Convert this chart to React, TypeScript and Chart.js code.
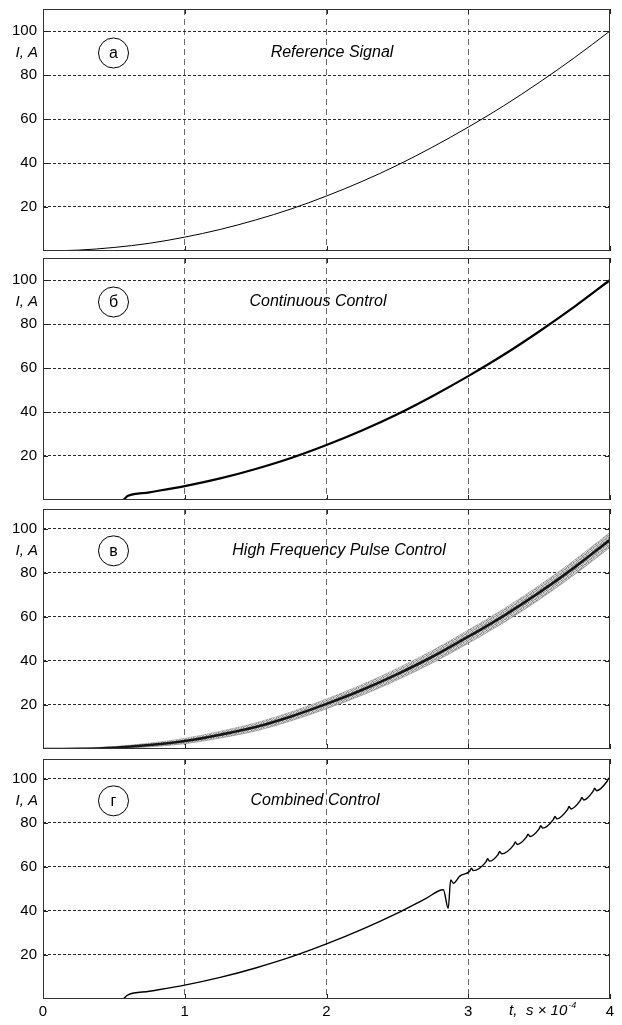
import React, { useEffect, useRef } from "react";
import { Chart, registerables } from "chart.js";
Chart.register(...registerables);

// ---------- data ----------
const xTickValues = [0, 1, 2, 3, 4];
const yTickValues = [20, 40, 60, 80, 100];

const refT = [0, 0.25, 0.5, 0.75, 1, 1.25, 1.5, 1.75, 2, 2.25, 2.5, 2.75, 3, 3.25, 3.5, 3.75, 4];
const refI = [0, 0.4, 1.6, 3.5, 6.3, 9.8, 14.1, 19.1, 25, 31.6, 39, 47.3, 56.3, 66, 76.6, 87.9, 100];

const contT = [0, 0.56, 0.6, 0.75, 1, 1.25, 1.5, 1.75, 2, 2.25, 2.5, 2.75, 3, 3.25, 3.5, 3.75, 4];
const contI = [0, 0, 1.9, 3.5, 6.3, 9.8, 14.1, 19.1, 25, 31.6, 39, 47.3, 56.3, 66, 76.6, 87.9, 100];

const hfT = [0, 0.25, 0.5, 0.75, 1, 1.25, 1.5, 1.75, 2, 2.25, 2.5, 2.75, 3, 3.25, 3.5, 3.75, 4];
const hfI = [0, 0.1, 0.6, 1.8, 3.6, 6.5, 10, 14.8, 20.5, 26.8, 34, 42, 51, 60.5, 71, 82.5, 95];
const hfUpper = [0, 0.3, 1.1, 2.6, 4.8, 8.0, 11.8, 16.8, 22.7, 29.2, 36.6, 44.8, 54.0, 63.6, 74.2, 85.8, 98.4];
const hfLower = [0, 0, 0.1, 1.0, 2.4, 5.0, 8.2, 12.8, 18.3, 24.4, 31.4, 39.2, 48.0, 57.4, 67.8, 79.2, 91.6];

const combT = [
  0, 0.56, 0.6, 0.75, 1, 1.25, 1.5, 1.75, 2, 2.25, 2.5, 2.7,
  2.824, 2.859, 2.876, 2.895, 2.942,
  3.01, 3.022, 3.035,
  3.125, 3.137, 3.15,
  3.21, 3.222, 3.235,
  3.32, 3.332, 3.345,
  3.41, 3.422, 3.435,
  3.5, 3.512, 3.525,
  3.6, 3.612, 3.625,
  3.7, 3.712, 3.725,
  3.79, 3.802, 3.815,
  3.88, 3.892, 3.905,
  3.98, 3.992, 4.0,
];
const combI = [
  0, 0, 1.9, 3.5, 6.3, 9.8, 14.1, 19.1, 25, 31.6, 39, 45.6,
  49.6, 41.2, 54.1, 52.6, 55.9,
  58.0, 59.4, 58.3,
  62.3, 63.7, 62.6,
  65.6, 67.0, 65.9,
  69.9, 71.3, 70.2,
  73.5, 74.9, 73.8,
  77.3, 78.7, 77.6,
  81.5, 82.9, 81.8,
  86.0, 87.4, 86.3,
  90.1, 91.5, 90.4,
  94.3, 95.7, 94.6,
  98.9, 100.3, 100,
];

const panelLetters = ["а", "б", "в", "г"];
const panelTitles = ["Reference Signal", "Continuous Control", "High Frequency Pulse Control", "Combined Control"];
const yAxisLabel = "I, A";

// ---------- helpers ----------
const FONT = '"Liberation Sans", Arial, sans-serif';
const pts = (t: number[], v: number[]) => t.map((x, i) => ({ x, y: v[i] }));

type PanelCfg = {
  top: number;
  height: number;
  padTop: number;
  padBottom: number;
  yMax: number;
  titleX: number;
  idx: number;
  showX: boolean;
};

const panels: PanelCfg[] = [
  { top: 0, height: 254, padTop: 9, padBottom: 3, yMax: 110, titleX: 332, idx: 0, showX: false },
  { top: 254, height: 250, padTop: 4, padBottom: 4, yMax: 110, titleX: 318, idx: 1, showX: false },
  { top: 504, height: 250, padTop: 5, padBottom: 5, yMax: 109, titleX: 339, idx: 2, showX: false },
  { top: 754, height: 271, padTop: 5, padBottom: 0, yMax: 109, titleX: 315, idx: 3, showX: true },
];

const noiseShades = [
  "#8a8a8a", "#cfcfcf", "#a5a5a5", "#e0e0e0", "#959595",
  "#d5d5d5", "#7c7c7c", "#c0c0c0", "#9c9c9c", "#dadada",
  "#a9a9a9", "#e3e3e3", "#858585", "#cbcbcb", "#b2b2b2",
  "#dcdcdc", "#9a9a9a", "#d2d2d2", "#7f7f7f", "#c6c6c6",
  "#b5b5b5", "#8e8e8e", "#dedede", "#a2a2a2", "#d0d0d0",
];

function makePattern(): CanvasPattern | string {
  const c = document.createElement("canvas");
  c.width = 5;
  c.height = 5;
  const g = c.getContext("2d");
  if (!g) return "#aaa";
  noiseShades.forEach((col, i) => {
    g.fillStyle = col;
    g.fillRect(i % 5, Math.floor(i / 5), 1, 1);
  });
  const p = g.createPattern(c, "repeat");
  return p || "#aaa";
}

function buildDatasets(idx: number): any[] {
  const base = { pointRadius: 0, cubicInterpolationMode: "monotone", fill: false };
  if (idx === 0) {
    return [{ ...base, data: pts(refT, refI), borderColor: "#000", borderWidth: 1 }];
  }
  if (idx === 1) {
    return [{ ...base, data: pts(contT, contI), borderColor: "#000", borderWidth: 2.2 }];
  }
  if (idx === 2) {
    const pat = makePattern();
    return [
      { ...base, data: pts(hfT, hfI), borderColor: "#161616", borderWidth: 2.6, order: 0 },
      { ...base, data: pts(hfT, hfUpper), borderColor: "rgba(140,140,140,0.7)", borderWidth: 1, order: 2 },
      { ...base, data: pts(hfT, hfLower), borderColor: "rgba(140,140,140,0.7)", borderWidth: 1, fill: "-1", backgroundColor: pat, order: 1 },
    ];
  }
  return [{ ...base, data: pts(combT, combI), borderColor: "#000", borderWidth: 1.4 }];
}

function Panel({ cfg }: { cfg: PanelCfg }) {
  const ref = useRef<HTMLCanvasElement | null>(null);
  useEffect(() => {
    if (!ref.current) return;
    const decor = {
      id: "decor" + cfg.idx,
      afterDraw(chart: any) {
        const { ctx, chartArea: a, scales } = chart;
        const x = scales.x;
        const y = scales.y;
        ctx.save();
        ctx.strokeStyle = "#222";
        ctx.lineWidth = 1;
        ctx.setLineDash([]);
        ctx.beginPath();
        for (const v of yTickValues) {
          const py = Math.round(y.getPixelForValue(v)) + 0.5;
          ctx.moveTo(a.left, py);
          ctx.lineTo(a.left + 5, py);
          ctx.moveTo(a.right - 5, py);
          ctx.lineTo(a.right, py);
        }
        for (const v of xTickValues) {
          const px = Math.round(x.getPixelForValue(v)) + 0.5;
          ctx.moveTo(px, a.bottom);
          ctx.lineTo(px, a.bottom - 5);
          ctx.moveTo(px, a.top);
          ctx.lineTo(px, a.top + 5);
        }
        ctx.stroke();
        ctx.strokeStyle = "#333";
        ctx.strokeRect(Math.round(a.left) + 0.5, Math.round(a.top) + 0.5, Math.round(a.width) - 1, Math.round(a.height) - 1);
        const ly = y.getPixelForValue(90);
        ctx.fillStyle = "#000";
        ctx.font = "italic 15px " + FONT;
        ctx.textAlign = "right";
        ctx.textBaseline = "middle";
        ctx.fillText(yAxisLabel, a.left - 5, ly);
        ctx.beginPath();
        ctx.arc(113.5, ly, 15, 0, Math.PI * 2);
        ctx.fillStyle = "#fff";
        ctx.fill();
        ctx.strokeStyle = "#000";
        ctx.lineWidth = 1;
        ctx.stroke();
        ctx.fillStyle = "#000";
        ctx.font = "16px " + FONT;
        ctx.textAlign = "center";
        ctx.fillText(panelLetters[cfg.idx], 113.5, ly + 1);
        ctx.font = "italic 16px " + FONT;
        ctx.fillText(panelTitles[cfg.idx], cfg.titleX, ly);
        if (cfg.showX) {
          const ty = a.bottom + 12;
          ctx.textAlign = "left";
          ctx.font = "italic 15px " + FONT;
          ctx.fillText("t,", 509, ty);
          ctx.fillText("s × 10", 526, ty);
          const w = ctx.measureText("s × 10").width;
          ctx.font = "italic 9px " + FONT;
          ctx.fillText("-4", 526 + w + 1, ty - 6);
        }
        ctx.restore();
      },
    };
    const chart = new Chart(ref.current, {
      type: "line",
      data: { datasets: buildDatasets(cfg.idx) },
      options: {
        animation: false,
        responsive: false,
        events: [],
        layout: { padding: { top: cfg.padTop, bottom: cfg.padBottom, left: 0, right: 12 } },
        plugins: { legend: { display: false }, tooltip: { enabled: false } },
        scales: {
          x: {
            type: "linear",
            min: 0,
            max: 4,
            afterBuildTicks: (s: any) => {
              s.ticks = xTickValues.map((v) => ({ value: v }));
            },
            afterFit: (s: any) => {
              s.height = cfg.showX ? 26 : 0;
              s.paddingLeft = 0;
              s.paddingRight = 0;
              s.paddingTop = 0;
              s.paddingBottom = 0;
            },
            grid: {
              color: (c: any) =>
                c.tick && (c.tick.value === 0 || c.tick.value === 4) ? "rgba(0,0,0,0)" : "#6a6a6a",
              drawTicks: false,
              lineWidth: 1,
            },
            border: { display: false, dash: [6, 4] },
            ticks: {
              display: cfg.showX,
              padding: 4,
              color: "#000",
              font: { family: FONT, size: 15 },
              maxRotation: 0,
              autoSkip: false,
              callback: (v: any) => String(v),
            },
          },
          y: {
            type: "linear",
            min: 0,
            max: cfg.yMax,
            afterBuildTicks: (s: any) => {
              s.ticks = yTickValues.map((v) => ({ value: v }));
            },
            afterFit: (s: any) => {
              s.width = 43;
              s.paddingTop = 0;
              s.paddingBottom = 0;
              s.paddingLeft = 0;
              s.paddingRight = 0;
            },
            grid: { color: "#2a2a2a", drawTicks: false, lineWidth: 1 },
            border: { display: false, dash: [3, 2] },
            ticks: {
              padding: 6,
              color: "#000",
              font: { family: FONT, size: 15 },
              callback: (v: any) => String(v),
            },
          },
        },
      } as any,
      plugins: [decor],
    });
    return () => chart.destroy();
  }, [cfg]);
  return (
    <canvas
      ref={ref}
      width={622}
      height={cfg.height}
      style={{ position: "absolute", left: 0, top: cfg.top, width: 622, height: cfg.height }}
    />
  );
}

export default function App() {
  return (
    <div style={{ position: "fixed", left: 0, top: 0, width: 622, height: 1025, background: "#fff", overflow: "hidden" }}>
      {panels.map((p) => (
        <Panel key={p.idx} cfg={p} />
      ))}
    </div>
  );
}
